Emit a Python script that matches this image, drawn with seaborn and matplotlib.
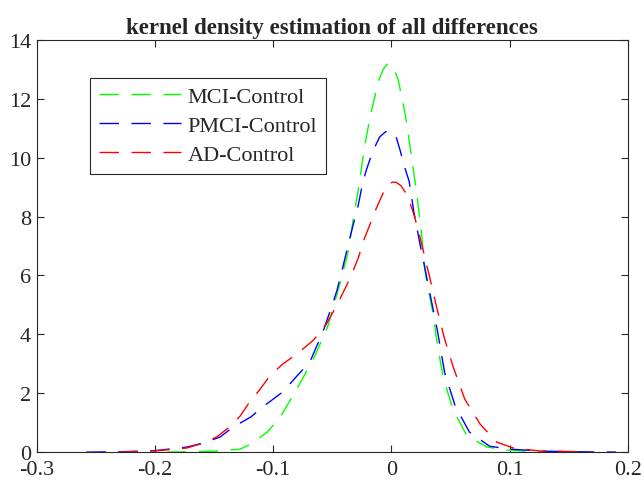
import numpy as np
import pandas as pd
import matplotlib
matplotlib.use("Agg")
import matplotlib.pyplot as plt
import seaborn as sns

sns.set_style("ticks")
plt.rcParams["font.family"] = ["Liberation Serif", "DejaVu Serif"]
plt.rcParams["axes.unicode_minus"] = False

# Values (kernel density curves)
mci_x = [-0.19, -0.17, -0.15, -0.128, -0.119, -0.105, -0.094, -0.080, -0.066, -0.054,
         -0.043, -0.036, -0.032, -0.028, -0.023, -0.018, -0.011, -0.007, -0.003, 0.002,
         0.006, 0.012, 0.016, 0.021, 0.025, 0.029, 0.035, 0.039, 0.044, 0.052, 0.064,
         0.081, 0.098, 0.12, 0.145]
mci_y = [0.0, 0.01, 0.03, 0.10, 0.27, 0.68, 1.19, 2.14, 3.16, 4.25,
         5.8, 6.9, 8.0, 8.9, 10.3, 11.4, 12.6, 13.0, 13.2, 13.05,
         12.6, 11.4, 10.3, 8.9, 7.6, 6.0, 4.75, 3.6, 2.5, 1.46, 0.54,
         0.17, 0.07, 0.02, 0.0]

pmci_x = [-0.258, -0.23, -0.20, -0.173, -0.159, -0.145, -0.134, -0.119, -0.109, -0.092,
          -0.080, -0.069, -0.058, -0.050, -0.046, -0.041, -0.035, -0.028, -0.024, -0.021,
          -0.016, -0.010, -0.005, 0.0, 0.004, 0.007, 0.011, 0.015, 0.019, 0.024, 0.028,
          0.033, 0.039, 0.045, 0.054, 0.066, 0.083, 0.100, 0.13, 0.16, 0.19]
pmci_y = [0.0, 0.01, 0.05, 0.17, 0.31, 0.51, 0.85, 1.19, 1.53, 2.04,
          2.58, 3.06, 4.08, 5.0, 5.5, 6.3, 7.3, 8.4, 9.2, 9.6,
          10.2, 10.7, 10.88, 10.9, 10.7, 10.3, 9.7, 9.2, 8.15, 7.1, 6.3,
          5.3, 4.1, 2.7, 1.56, 0.68, 0.2, 0.1, 0.03, 0.01, 0.0]

ad_x = [-0.231, -0.20, -0.173, -0.159, -0.148, -0.137, -0.128, -0.120, -0.111, -0.103,
        -0.092, -0.080, -0.066, -0.055, -0.046, -0.035, -0.028, -0.023, -0.018, -0.013,
        -0.007, -0.003, 0.001, 0.004, 0.008, 0.013, 0.018, 0.022, 0.028, 0.032, 0.038,
        0.045, 0.052, 0.062, 0.075, 0.089, 0.103, 0.125, 0.15, 0.17]
ad_y = [0.0, 0.04, 0.14, 0.31, 0.51, 0.85, 1.22, 1.7, 2.14, 2.58,
        2.99, 3.33, 3.8, 4.35, 5.0, 5.9, 6.6, 7.24, 7.75, 8.26,
        8.8, 9.08, 9.17, 9.16, 9.05, 8.75, 8.2, 7.65, 6.66, 6.0, 4.96,
        3.84, 2.92, 1.8, 0.95, 0.34, 0.14, 0.04, 0.02, 0.0]

labels = ["MCI-Control", "PMCI-Control", "AD-Control"]
colors = ["#00ff00", "#0000ff", "#ff0000"]
xticks = [-0.3, -0.2, -0.1, 0, 0.1, 0.2]
xtick_labels = ["-0.3", "-0.2", "-0.1", "0", "0.1", "0.2"]
yticks = [0, 2, 4, 6, 8, 10, 12, 14]

df = pd.concat([
    pd.DataFrame({"x": mci_x, "y": mci_y, "group": labels[0]}),
    pd.DataFrame({"x": pmci_x, "y": pmci_y, "group": labels[1]}),
    pd.DataFrame({"x": ad_x, "y": ad_y, "group": labels[2]}),
])

fig = plt.figure(figsize=(6.44, 4.81), dpi=100)
ax = fig.add_axes([0.057, 0.058, 0.918, 0.857])

sns.lineplot(data=df, x="x", y="y", hue="group", style="group",
             palette=dict(zip(labels, colors)),
             dashes={l: (14, 9) for l in labels},
             linewidth=1.0, ax=ax, legend=True)

ax.set_xlim(-0.3, 0.2)
ax.set_ylim(0, 14)
ax.set_xticks(xticks)
ax.set_xticklabels(xtick_labels)
ax.set_yticks(yticks)
ax.set_xlabel("")
ax.set_ylabel("")
ax.tick_params(direction="in", length=5, width=0.8, top=True, right=True,
               labelsize=16, colors="#262626")
ax.tick_params(axis="x", pad=6)
ax.tick_params(axis="y", pad=4)
for s in ax.spines.values():
    s.set_visible(True)
    s.set_color("#262626")
    s.set_linewidth(0.8)

ax.set_title("kernel density estimation of all differences", fontsize=16.5,
             fontweight="bold", pad=5)

leg = ax.legend(loc="upper left", bbox_to_anchor=(0.09, 0.908), fontsize=16,
                frameon=True, fancybox=False, framealpha=1, edgecolor="#262626",
                handlelength=3.7, handletextpad=0.3, borderpad=0.4,
                labelspacing=0.38, borderaxespad=0)
leg.get_frame().set_linewidth(0.8)

fig.savefig("out.png", dpi=100)
